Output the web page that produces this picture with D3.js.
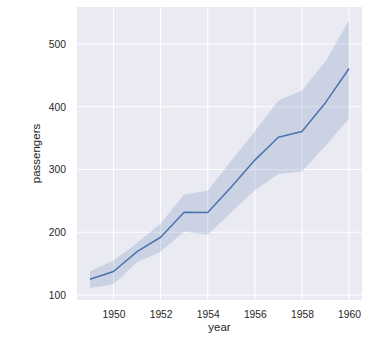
<!DOCTYPE html>
<html>
<head>
<meta charset="utf-8">
<script src="https://cdn.jsdelivr.net/npm/d3@7"></script>
<style>
  html, body { margin: 0; padding: 0; background: #ffffff; }
  svg { display: block; font-family: "Liberation Sans", Arial, sans-serif; }
</style>
</head>
<body>
<svg id="chart" width="389" height="343"></svg>
<script>
// Yearly airline passengers: central estimate and 95% interval band
const years = [1949, 1950, 1951, 1952, 1953, 1954, 1955, 1956, 1957, 1958, 1959, 1960];
const passengers = [125, 137.5, 169, 192, 232, 231.5, 272, 315, 351.5, 360.5, 406.5, 461];
const ciLower = [111, 117, 152, 169, 201, 196, 232, 267, 293, 297, 338, 381];
const ciUpper = [138, 155, 183, 214, 260, 266, 314, 361, 410, 426, 472, 538];
const xTicks = [1950, 1952, 1954, 1956, 1958, 1960];
const yTicks = [100, 200, 300, 400, 500];

const svg = d3.select("#chart");
const plot = { left: 77, right: 362, top: 7, bottom: 300 };

const x = d3.scaleLinear().domain([1948.45, 1960.55]).range([plot.left, plot.right]);
const y = d3.scaleLinear().domain([92, 559]).range([plot.bottom, plot.top]);

// Axes background
svg.append("rect")
  .attr("x", plot.left).attr("y", plot.top)
  .attr("width", plot.right - plot.left).attr("height", plot.bottom - plot.top)
  .attr("fill", "#EAEAF2");

// Grid lines
const grid = svg.append("g");
grid.selectAll(".gx").data(xTicks).join("line")
  .attr("x1", d => x(d)).attr("x2", d => x(d))
  .attr("y1", plot.top).attr("y2", plot.bottom)
  .attr("stroke", "#ffffff").attr("stroke-width", 1.1);
grid.selectAll(".gy").data(yTicks).join("line")
  .attr("x1", plot.left).attr("x2", plot.right)
  .attr("y1", d => y(d)).attr("y2", d => y(d))
  .attr("stroke", "#ffffff").attr("stroke-width", 1.1);

const rows = years.map((yr, i) => ({ year: yr, v: passengers[i], lo: ciLower[i], hi: ciUpper[i] }));

// Confidence band
svg.append("path")
  .datum(rows)
  .attr("fill", "#4C72B0").attr("fill-opacity", 0.2)
  .attr("d", d3.area().x(d => x(d.year)).y0(d => y(d.lo)).y1(d => y(d.hi)));

// Estimate line
svg.append("path")
  .datum(rows)
  .attr("fill", "none").attr("stroke", "#4C72B0").attr("stroke-width", 1.5)
  .attr("stroke-linejoin", "round")
  .attr("d", d3.line().x(d => x(d.year)).y(d => y(d.v)));

// Axes (tick marks hidden, labels only)
const xAxis = svg.append("g")
  .attr("transform", `translate(0,${plot.bottom})`)
  .call(d3.axisBottom(x).tickValues(xTicks).tickFormat(d3.format("d")).tickSize(0).tickPadding(11));
const yAxis = svg.append("g")
  .attr("transform", `translate(${plot.left},0)`)
  .call(d3.axisLeft(y).tickValues(yTicks).tickFormat(d3.format("d")).tickSize(0).tickPadding(11));

[xAxis, yAxis].forEach(ax => {
  ax.select(".domain").remove();
  ax.selectAll("text")
    .attr("fill", "#262626")
    .style("font-size", "10.3px")
    .style("font-family", "'Liberation Sans', Arial, sans-serif");
});

// Axis titles
svg.append("text")
  .attr("x", (plot.left + plot.right) / 2).attr("y", 331)
  .attr("text-anchor", "middle")
  .attr("fill", "#262626").style("font-size", "11.5px")
  .text("year");

svg.append("text")
  .attr("transform", `translate(40,${(plot.top + plot.bottom) / 2}) rotate(-90)`)
  .attr("text-anchor", "middle")
  .attr("fill", "#262626").style("font-size", "11.5px")
  .text("passengers");
</script>
</body>
</html>
